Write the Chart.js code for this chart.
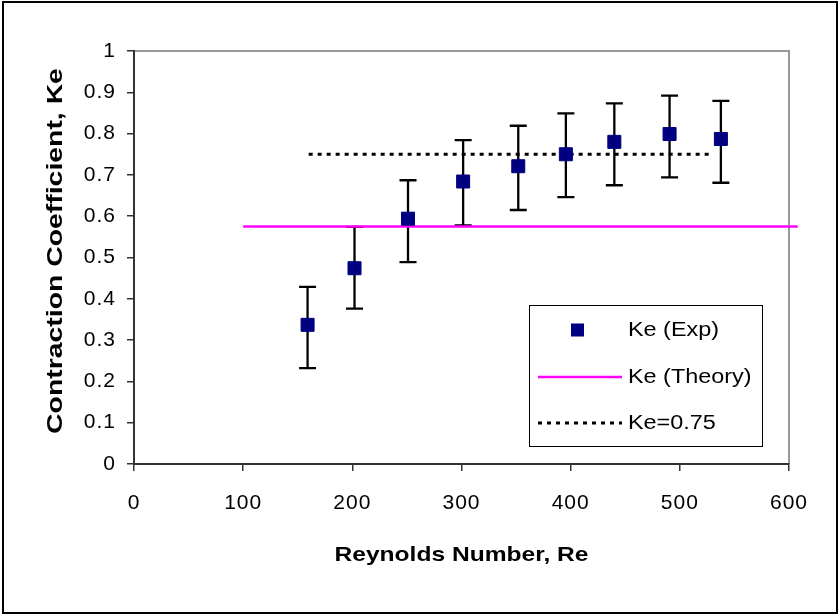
<!DOCTYPE html>
<html>
<head>
<meta charset="utf-8">
<script src="https://cdn.jsdelivr.net/npm/chart.js@4.4.0/dist/chart.umd.min.js"></script>
<style>
  html, body { margin: 0; padding: 0; background: #fff; }
  canvas { display: block; }
</style>
</head>
<body>
<canvas id="graficaKe" width="839" height="615"></canvas>
<script>
// datos
const reynolds = [159, 202, 251, 301.5, 352, 395.6, 440, 490.6, 537.6];
const keExp    = [0.337, 0.474, 0.594, 0.684, 0.721, 0.750, 0.780, 0.799, 0.787];
const keLow    = [0.232, 0.376, 0.489, 0.578, 0.615, 0.646, 0.675, 0.694, 0.681];
const keHigh   = [0.429, 0.574, 0.687, 0.784, 0.819, 0.849, 0.873, 0.892, 0.879];

const teoriaRe = [100, 608];
const teoriaKe = [0.575, 0.575];
const refRe    = [160, 531];
const refKe    = [0.75, 0.75];

const xTicks = ['0', '100', '200', '300', '400', '500', '600'];
const yTicks = ['0', '0.1', '0.2', '0.3', '0.4', '0.5', '0.6', '0.7', '0.8', '0.9', '1'];

const fuente = "'Liberation Sans', Arial, sans-serif";

const puntos = (xs, ys) => xs.map((x, i) => ({ x: x, y: ys[i] }));

// texto ensanchado como en el original de Excel
function textoAncho(ctx, txt, x, y, escala, alinear) {
  ctx.save();
  ctx.translate(x, y);
  ctx.scale(escala, 1);
  ctx.textAlign = alinear;
  ctx.fillText(txt, 0, 0);
  ctx.restore();
}

const adornos = {
  id: 'adornos',
  beforeDraw(chart) {
    const { ctx, chartArea: a } = chart;
    ctx.save();
    ctx.fillStyle = '#fff';
    ctx.fillRect(0, 0, chart.width, chart.height);
    ctx.strokeStyle = '#000';
    ctx.lineWidth = 2;
    ctx.strokeRect(3, 2, 834, 611);
    // borde gris del area de trazado
    ctx.strokeStyle = '#999';
    ctx.lineWidth = 2;
    ctx.beginPath();
    ctx.moveTo(a.left, a.top);
    ctx.lineTo(a.right, a.top);
    ctx.lineTo(a.right, a.bottom);
    ctx.stroke();
    ctx.restore();
    ctx.letterSpacing = '1px';
  },
  beforeDatasetsDraw(chart) {
    const { ctx, scales: { x, y } } = chart;
    ctx.save();
    ctx.strokeStyle = '#000';
    ctx.lineWidth = 2.3;
    reynolds.forEach((re, i) => {
      const px = x.getPixelForValue(re);
      const lo = y.getPixelForValue(keLow[i]);
      const hi = y.getPixelForValue(keHigh[i]);
      ctx.beginPath();
      ctx.moveTo(px, lo); ctx.lineTo(px, hi);
      ctx.moveTo(px - 8.5, lo); ctx.lineTo(px + 8.5, lo);
      ctx.moveTo(px - 8.5, hi); ctx.lineTo(px + 8.5, hi);
      ctx.stroke();
    });
    ctx.restore();
  },
  afterDraw(chart) {
    const { ctx, chartArea: a } = chart;
    ctx.save();
    ctx.letterSpacing = '0px';
    ctx.fillStyle = '#000';
    ctx.textBaseline = 'middle';
    ctx.font = 'bold 21px ' + fuente;
    textoAncho(ctx, 'Reynolds Number, Re', (a.left + a.right) / 2, 555, 1.17, 'center');
    ctx.save();
    ctx.translate(56, 251);
    ctx.rotate(-Math.PI / 2);
    ctx.font = 'bold 22px ' + fuente;
    textoAncho(ctx, 'Contraction Coefficient, Ke', 0, 0, 1.29, 'center');
    ctx.restore();
    ctx.restore();

    // leyenda
    const ds = chart.data.datasets;
    ctx.save();
    ctx.letterSpacing = '0px';
    ctx.fillStyle = '#fff';
    ctx.fillRect(529, 305, 233, 141);
    ctx.strokeStyle = '#000';
    ctx.lineWidth = 1;
    ctx.strokeRect(529.5, 305.5, 233, 141);
    ctx.font = '19.5px ' + fuente;
    ctx.textBaseline = 'middle';
    const filas = [330, 377, 423];
    ds.forEach((d, i) => {
      const yy = filas[i];
      if (i === 0) {
        ctx.fillStyle = d.backgroundColor;
        ctx.fillRect(571, yy - 6.5, 13, 13);
      } else {
        ctx.strokeStyle = d.borderColor;
        ctx.lineWidth = d.borderWidth;
        ctx.setLineDash(d.borderDash || []);
        ctx.beginPath();
        ctx.moveTo(538, yy); ctx.lineTo(622, yy);
        ctx.stroke();
        ctx.setLineDash([]);
      }
      ctx.fillStyle = '#000';
      textoAncho(ctx, d.label, 628, yy + 1, 1.2, 'left');
    });
    ctx.restore();
  }
};

new Chart(document.getElementById('graficaKe').getContext('2d'), {
  type: 'scatter',
  data: {
    datasets: [{
      label: 'Ke (Exp)',
      data: puntos(reynolds, keExp),
      pointStyle: 'rect',
      pointRadius: 9.2,
      pointHoverRadius: 9.2,
      backgroundColor: '#000080',
      borderColor: '#000080',
      borderWidth: 1
    }, {
      label: 'Ke (Theory)',
      data: puntos(teoriaRe, teoriaKe),
      showLine: true,
      pointRadius: 0,
      borderColor: '#FF00FF',
      borderWidth: 2.5,
      clip: false
    }, {
      label: 'Ke=0.75',
      data: puntos(refRe, refKe),
      showLine: true,
      pointRadius: 0,
      borderColor: '#000',
      borderWidth: 3,
      borderDash: [4, 5]
    }]
  },
  options: {
    responsive: false,
    animation: false,
    layout: { padding: { top: 51, right: 50, left: 0, bottom: 0 } },
    plugins: {
      legend: { display: false },
      tooltip: { enabled: false }
    },
    scales: {
      x: {
        type: 'linear',
        min: 0,
        max: 600,
        afterFit: s => { s.height = 151; },
        afterBuildTicks: s => { s.ticks = xTicks.map(Number).map(v => ({ value: v })); },
        ticks: {
          callback: (v, i) => xTicks[i],
          color: '#000',
          padding: 20,
          maxRotation: 0,
          font: { family: fuente, size: 21 }
        },
        grid: { drawOnChartArea: false, drawTicks: true, tickLength: 7, color: '#333', lineWidth: 1.5 },
        border: { display: true, color: '#333', width: 2 }
      },
      y: {
        min: 0,
        max: 1,
        afterFit: s => { s.width = 134; },
        afterBuildTicks: s => { s.ticks = yTicks.map(Number).map(v => ({ value: v })); },
        ticks: {
          callback: (v, i) => yTicks[i],
          color: '#000',
          padding: 11,
          font: { family: fuente, size: 21 }
        },
        grid: { drawOnChartArea: false, drawTicks: true, tickLength: 7, color: '#333', lineWidth: 1.5 },
        border: { display: true, color: '#333', width: 2 }
      }
    }
  },
  plugins: [adornos]
});
</script>
</body>
</html>
